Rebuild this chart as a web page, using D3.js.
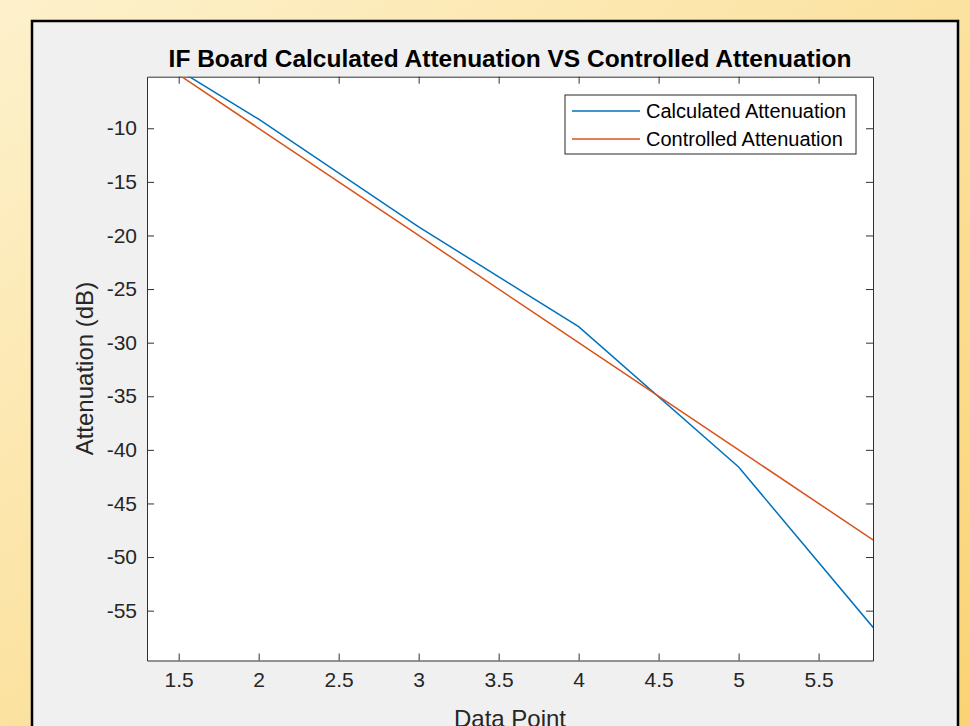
<!DOCTYPE html>
<html>
<head>
<meta charset="utf-8">
<script src="https://cdn.jsdelivr.net/npm/d3@7"></script>
<style>
  html, body { margin:0; padding:0; overflow:hidden; }
  svg { display:block; font-family:"Liberation Sans", Arial, sans-serif; }
  .tick text { font-size:21px; fill:#262626; }
  .title { font-size:24.5px; font-weight:bold; fill:#000; }
  .axis-label { font-size:24px; fill:#262626; }
  .legend-text { font-size:20px; fill:#000; }
</style>
</head>
<body>
<svg id="chart" width="970" height="726"></svg>
<script>
// data points (x = data point index)
const dataPoints = [1, 2, 3, 4, 5, 6];
const calculated = [0, -9.15, -19.2, -28.5, -41.6, -59.4];
const controlled = [0, -10, -20, -30, -40, -50];
const seriesNames = ['Calculated Attenuation', 'Controlled Attenuation'];
const xTicks = [1.5, 2, 2.5, 3, 3.5, 4, 4.5, 5, 5.5];
const yTicks = [-10, -15, -20, -25, -30, -35, -40, -45, -50, -55];
const xLimits = [1.302, 5.84];
const yLimits = [-59.65, -5.19];

const svg = d3.select('#chart');
const width = +svg.attr('width');
const height = +svg.attr('height');

// yellow slide background
const defs = svg.append('defs');
const grad = defs.append('linearGradient')
    .attr('id','bg').attr('x1','0').attr('y1','0').attr('x2','1').attr('y2','1');
grad.append('stop').attr('offset','0%').attr('stop-color','#fdf1cc');
grad.append('stop').attr('offset','100%').attr('stop-color','#fad374');
svg.append('rect').attr('width',width).attr('height',height).attr('fill','url(#bg)');

// figure panel
svg.append('rect')
    .attr('x',32).attr('y',21)
    .attr('width',926).attr('height',800)
    .attr('fill','#f0f0f0')
    .attr('stroke','#000').attr('stroke-width',2.5);

const plot = { left:147, right:873, top:76.7, bottom:660.5 };

const xscale = d3.scaleLinear().domain(xLimits).range([plot.left, plot.right]);
const yscale = d3.scaleLinear().domain(yLimits).range([plot.bottom, plot.top]);

svg.append('rect')
    .attr('x',plot.left).attr('y',plot.top)
    .attr('width',plot.right-plot.left).attr('height',plot.bottom-plot.top)
    .attr('fill','#fff');

defs.append('clipPath').attr('id','clip')
  .append('rect')
    .attr('x',plot.left).attr('y',plot.top)
    .attr('width',plot.right-plot.left).attr('height',plot.bottom-plot.top);

const fmt = d => String(d);

const xAxis = svg.append('g')
    .attr('transform',`translate(0,${plot.bottom})`)
    .call(d3.axisBottom(xscale).tickValues(xTicks).tickFormat(fmt).tickSize(-7).tickSizeOuter(0).tickPadding(12));
const xTop = svg.append('g')
    .attr('transform',`translate(0,${plot.top})`)
    .call(d3.axisTop(xscale).tickValues(xTicks).tickFormat('').tickSize(-7).tickSizeOuter(0));
const yAxis = svg.append('g')
    .attr('transform',`translate(${plot.left},0)`)
    .call(d3.axisLeft(yscale).tickValues(yTicks).tickFormat(fmt).tickSize(-7).tickSizeOuter(0).tickPadding(10));
const yRight = svg.append('g')
    .attr('transform',`translate(${plot.right},0)`)
    .call(d3.axisRight(yscale).tickValues(yTicks).tickFormat('').tickSize(-7).tickSizeOuter(0));

[xAxis, xTop, yAxis, yRight].forEach(a => {
    a.selectAll('path, line').attr('stroke','#303030').attr('stroke-width',1);
    a.selectAll('text').attr('font-family',null).attr('font-size',null);
});

// lines
const line = vals => d3.line()
    .x((d,i) => xscale(dataPoints[i]))
    .y(d => yscale(d))(vals);

const lines = svg.append('g').attr('clip-path','url(#clip)');
lines.append('path').attr('d', line(calculated))
    .attr('fill','none').attr('stroke','#0072bd').attr('stroke-width',1.5);
lines.append('path').attr('d', line(controlled))
    .attr('fill','none').attr('stroke','#d95319').attr('stroke-width',1.5);

// title and labels
svg.append('text').attr('class','title')
    .attr('x',(plot.left+plot.right)/2).attr('y',67)
    .attr('text-anchor','middle')
    .text('IF Board Calculated Attenuation VS Controlled Attenuation');

svg.append('text').attr('class','axis-label')
    .attr('transform',`translate(93,${(plot.top+plot.bottom)/2}) rotate(-90)`)
    .attr('text-anchor','middle')
    .text('Attenuation (dB)');

svg.append('text').attr('class','axis-label')
    .attr('x',(plot.left+plot.right)/2).attr('y',727)
    .attr('text-anchor','middle')
    .text('Data Point');

// legend
const legend = svg.append('g');
legend.append('rect')
    .attr('x',565).attr('y',95).attr('width',291).attr('height',59)
    .attr('fill','#fff').attr('stroke','#262626').attr('stroke-width',1);
const colors = ['#0072bd','#d95319'];
seriesNames.forEach((name,i) => {
    const cy = 111 + i*28;
    legend.append('line')
        .attr('x1',572).attr('x2',640).attr('y1',cy).attr('y2',cy)
        .attr('stroke',colors[i]).attr('stroke-width',1.5);
    legend.append('text').attr('class','legend-text')
        .attr('x',646).attr('y',cy+7)
        .text(name);
});
</script>
</body>
</html>
